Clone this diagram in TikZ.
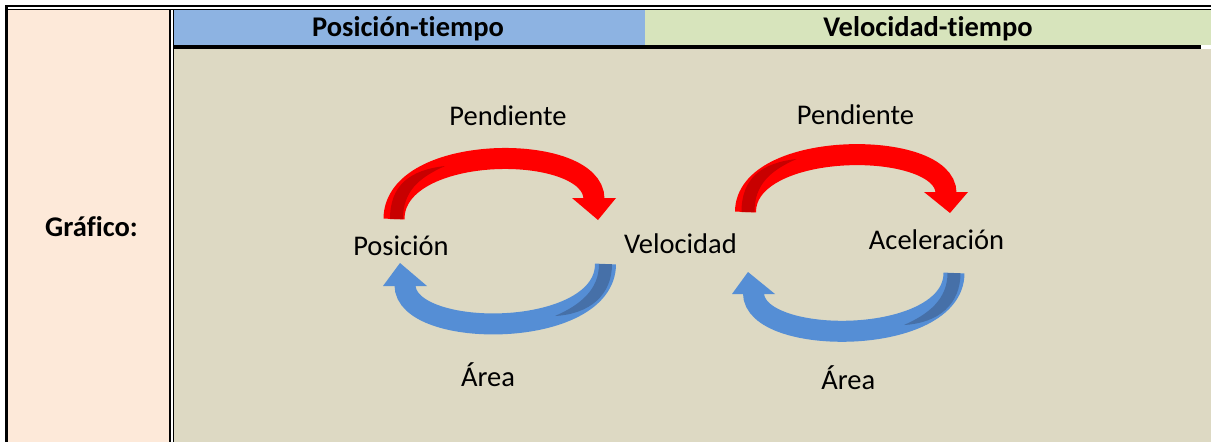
\documentclass[tikz,border=0pt]{standalone}
\usepackage{fontspec}
\setmainfont[Ligatures=NoCommon]{Carlito}
\usepackage{tikz}

\definecolor{cellPeach}{RGB}{253,233,217}
\definecolor{cellBlue}{RGB}{141,179,226}
\definecolor{cellGreen}{RGB}{215,228,188}
\definecolor{cellSand}{RGB}{221,217,195}
\definecolor{arrowRed}{RGB}{255,0,0}
\definecolor{arrowRedDark}{RGB}{200,0,0}
\definecolor{arrowBlue}{RGB}{85,142,213}
\definecolor{arrowBlueDark}{RGB}{70,112,168}

\begin{document}
\begin{tikzpicture}[x=1pt,y=-1pt]
		\tikzstyle{word}=[anchor=base,inner sep=0pt,font=\fontsize{28.5}{32}\selectfont]
		\tikzstyle{head}=[anchor=base,inner sep=0pt,font=\fontsize{28.5}{32}\selectfont\bfseries]
		\tikzstyle{red-arc}=[draw=arrowRed,line width=21pt]
		\tikzstyle{blue-arc}=[draw=arrowBlue,line width=21pt]
		\useasboundingbox (0,0) rectangle (1211,442);
		% table cells
		\fill [white] (0,0) rectangle (1211,442);
		\fill [cellPeach] (8,10) rectangle (169,442);
		\fill [cellBlue] (174,10) rectangle (645,45);
		\fill [cellGreen] (645,10) rectangle (1211,45);
		\fill [cellSand] (174,49) rectangle (1211,442);
		% table rules
		\draw [line width=2pt] (5,6) -- (1211,6);
		\draw [line width=1.5pt] (5,9.5) -- (1211,9.5);
		\draw [line width=3pt] (6.5,5) -- (6.5,442);
		\draw [line width=2pt] (170.3,9) -- (170.3,442);
		\draw [line width=1.4pt] (173.4,9) -- (173.4,442);
		\draw [line width=4pt] (174,47) -- (1201,47);
		% headers
		\node [head] at (408,36.7) (hpos) {Posición-tiempo};
		\node [head] at (928,36.7) (hvel) {Velocidad-tiempo};
		\node [head] at (91.5,236) (graf) {Gráfico:};
		% labels
		\node [word] at (401,255.5) (pos) {Posición};
		\node [word] at (680.5,253) (vel) {Velocidad};
		\node [word] at (936.5,249.3) (acel) {Aceleración};
		\node [word] at (508,125) (pend1) {Pendiente};
		\node [word] at (855.5,124) (pend2) {Pendiente};
		\node [word] at (488,386.7) (area1) {Área};
		\node [word] at (848.3,389.3) (area2) {Área};
		% arc ends
		\coordinate (p-up) at (394,219);
		\coordinate (v-in) at (594,199);
		\coordinate (v-up) at (745.5,212);
		\coordinate (a-in) at (946,193);
		\coordinate (v-down) at (605.5,264);
		\coordinate (p-in) at (405,285);
		\coordinate (a-down) at (954,273);
		\coordinate (v-back) at (753.5,293);
		% pendiente arrows
		\draw [red-arc] (p-up) .. controls (394,142) and (594,142) .. (v-in);
		\fill [arrowRed] (572,198) -- (616,198) -- (598,220) -- cycle;
		\fill [arrowRedDark] (390,219) .. controls (390,185) and (410,170) .. (445,166) .. controls (418,178) and (403,192) .. (403,219) -- cycle;
		\draw [red-arc] (v-up) .. controls (745.5,139) and (946,139) .. (a-in);
		\fill [arrowRed] (924,192) -- (968,192) -- (950,213) -- cycle;
		\fill [arrowRedDark] (741.5,212) .. controls (741.5,178) and (761.5,163) .. (796.5,159) .. controls (769.5,171) and (754.5,185) .. (754.5,212) -- cycle;
		% area arrows
		\draw [blue-arc] (v-down) .. controls (605.5,340) and (405,340) .. (p-in);
		\fill [arrowBlue] (383,286) -- (427,286) -- (400,263) -- cycle;
		\fill [arrowBlueDark] (599,264) -- (612,264) .. controls (612,295) and (590,314) .. (555,316) .. controls (580,305) and (599,290) .. (599,264) -- cycle;
		\draw [blue-arc] (a-down) .. controls (954,347) and (753.5,347) .. (v-back);
		\fill [arrowBlue] (732,294) -- (775,294) -- (748,272) -- cycle;
		\fill [arrowBlueDark] (947.5,273) -- (960.5,273) .. controls (960.5,304) and (939,323) .. (904,325) .. controls (929,314) and (947.5,299) .. (947.5,273) -- cycle;
	\end{tikzpicture}
\end{document}
